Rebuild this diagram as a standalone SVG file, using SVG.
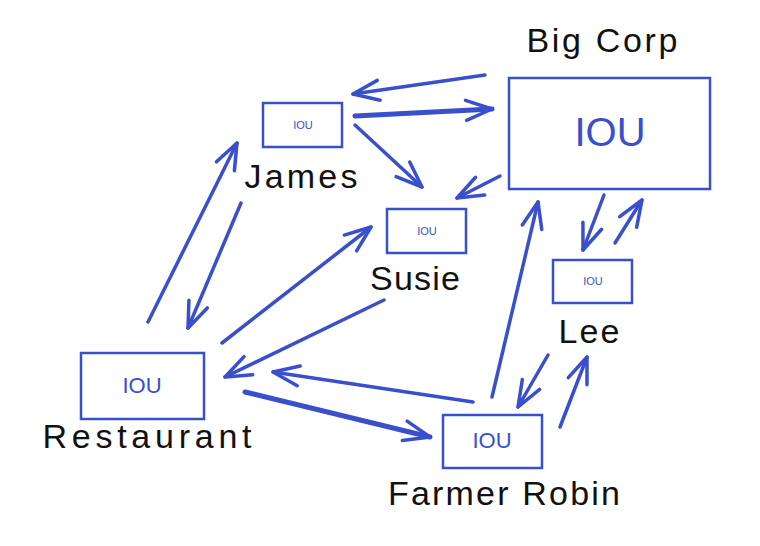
<svg xmlns="http://www.w3.org/2000/svg" width="760" height="546" viewBox="0 0 760 546">
  <style>
    .box { fill: none; stroke: #3a4fcc; stroke-width: 2.5; }
    .iou { fill: #3a4fcc; font-family: "Liberation Sans", sans-serif; text-anchor: middle; }
    .lbl { fill: #111; font-family: "Liberation Sans", sans-serif; font-size: 34px; text-anchor: middle; }
    .arr { fill: none; stroke: #3a4fcc; stroke-width: 3.5; stroke-linecap: round; marker-end: url(#head); }
    .thick { stroke-width: 5; }
  </style>
  <defs>
    <marker id="head" viewBox="-30 -15 34 30" markerWidth="34" markerHeight="30" refX="0" refY="0" orient="auto" markerUnits="userSpaceOnUse">
      <path d="M-26,-10 L0,0 L-26,10" fill="none" stroke="#3a4fcc" stroke-width="3.5" stroke-linecap="round" stroke-linejoin="round"/>
    </marker>
  </defs>
  <rect width="760" height="546" fill="#ffffff"/>

  <g id="connectors">
    <path class="arr" d="M485,75 L353,94"/>
    <path class="arr thick" d="M355,116 L492,109"/>
    <path class="arr" d="M355,125 L422,187"/>
    <path class="arr" d="M500,176 L457,198"/>
    <path class="arr" d="M604,195 L583,250"/>
    <path class="arr" d="M615,243 L642,200"/>
    <path class="arr" d="M492,397 L538,202"/>
    <path class="arr" d="M148,322 L237,143"/>
    <path class="arr" d="M241,203 L188,328"/>
    <path class="arr" d="M222,343 L371,227"/>
    <path class="arr" d="M384,300 L225,377"/>
    <path class="arr" d="M473,402 L273,372"/>
    <path class="arr thick" d="M245,392 L430,437"/>
    <path class="arr" d="M548,355 L518,407"/>
    <path class="arr" d="M560,427 L587,357"/>
  </g>

  <g id="bigcorp">
    <rect class="box" x="509" y="78" width="201" height="111"/>
    <text class="iou" x="610" y="146" font-size="40">IOU</text>
    <text class="lbl" x="602" y="52" font-size="36" textLength="151" lengthAdjust="spacing">Big Corp</text>
  </g>
  <g id="james">
    <rect class="box" x="263" y="103" width="79" height="44"/>
    <text class="iou" x="303" y="129" font-size="11">IOU</text>
    <text class="lbl" x="301" y="188" textLength="113" lengthAdjust="spacing">James</text>
  </g>
  <g id="susie">
    <rect class="box" x="387" y="209" width="79" height="44"/>
    <text class="iou" x="427" y="235" font-size="11">IOU</text>
    <text class="lbl" x="415" y="290" textLength="90" lengthAdjust="spacing">Susie</text>
  </g>
  <g id="lee">
    <rect class="box" x="553" y="260" width="79" height="43"/>
    <text class="iou" x="593" y="285" font-size="11">IOU</text>
    <text class="lbl" x="589" y="343" textLength="61" lengthAdjust="spacing">Lee</text>
  </g>
  <g id="restaurant">
    <rect class="box" x="81" y="353" width="123" height="66"/>
    <text class="iou" x="142" y="393" font-size="22">IOU</text>
    <text class="lbl" x="147" y="448" font-size="36" textLength="209" lengthAdjust="spacing">Restaurant</text>
  </g>
  <g id="farmerrobin">
    <rect class="box" x="443" y="415" width="99" height="53"/>
    <text class="iou" x="492" y="448" font-size="22">IOU</text>
    <text class="lbl" x="504" y="505" font-size="36" textLength="232" lengthAdjust="spacing">Farmer Robin</text>
  </g>
</svg>
